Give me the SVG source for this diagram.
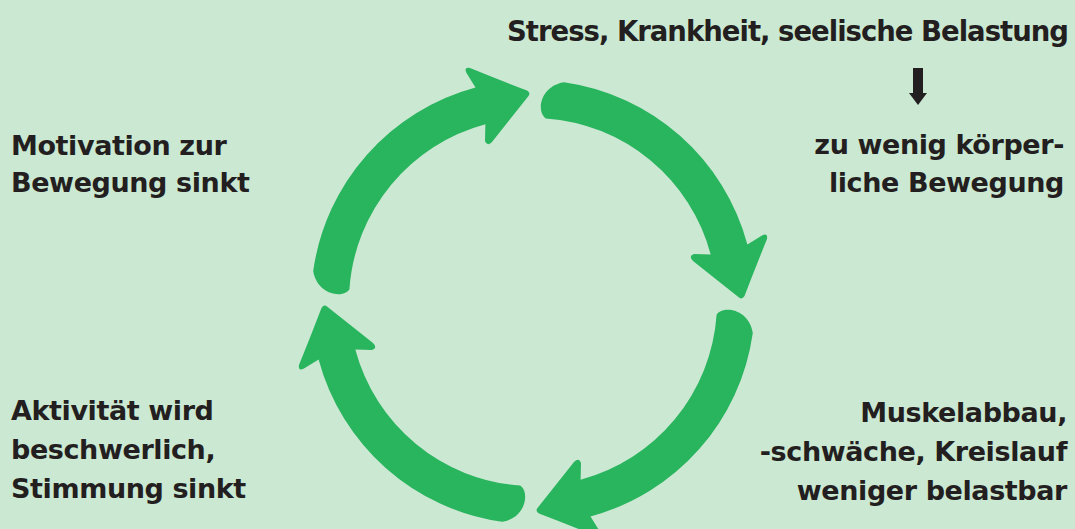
<svg xmlns="http://www.w3.org/2000/svg" xmlns:xlink="http://www.w3.org/1999/xlink" width="1075" height="529" viewBox="0 0 1075 529">
<style>
.t{font-family:"DejaVu Sans","Liberation Sans",sans-serif;font-weight:bold;font-size:27px;fill:#231f20;letter-spacing:-0.4px}
.r{text-anchor:end}
.top{letter-spacing:-1px;font-size:27.5px}
.g{fill:#29b45e}
</style>
<defs>
<path id="arc" d="M 563.9 82.2 A 222 222 0 0 1 747.4 244.5 L 762 235.5 Q 768 232.5 767 239 Q 756 266 744.5 296 Q 742 300 739 297.5 L 693 261 Q 688 256 694 254 L 710.7 254.4 A 184 184 0 0 0 545.8 118.4 C 536 112 540 86 563.9 82.2 Z"/>
</defs>
<rect width="1075" height="529" fill="#cbe8d2"/>
<g id="connectors" class="g">
<use xlink:href="#arc"/>
<use xlink:href="#arc" transform="rotate(90 533 302)"/>
<use xlink:href="#arc" transform="rotate(180 533 302)"/>
<use xlink:href="#arc" transform="rotate(270 533 302)"/>
<g id="down-arrow" fill="#231f20">
<rect x="913" y="68" width="10" height="26"/>
<polygon points="909,93 927,93 918,105"/>
</g>
</g>
<g id="n-stress"><text class="t r top" x="1068" y="41">Stress, Krankheit, seelische Belastung</text></g>
<g id="n-bewegung"><text class="t r" x="1064" y="154">zu wenig körper-</text><text class="t r" x="1064" y="192">liche Bewegung</text></g>
<g id="n-muskel"><text class="t r" x="1067" y="422">Muskelabbau,</text><text class="t r" x="1067" y="461">-schwäche, Kreislauf</text><text class="t r" x="1067" y="500">weniger belastbar</text></g>
<g id="n-aktivitaet"><text class="t" x="11" y="420">Aktivität wird</text><text class="t" x="11" y="459">beschwerlich,</text><text class="t" x="11" y="498">Stimmung sinkt</text></g>
<g id="n-motivation"><text class="t" x="11" y="155">Motivation zur</text><text class="t" x="11" y="192">Bewegung sinkt</text></g>
</svg>
